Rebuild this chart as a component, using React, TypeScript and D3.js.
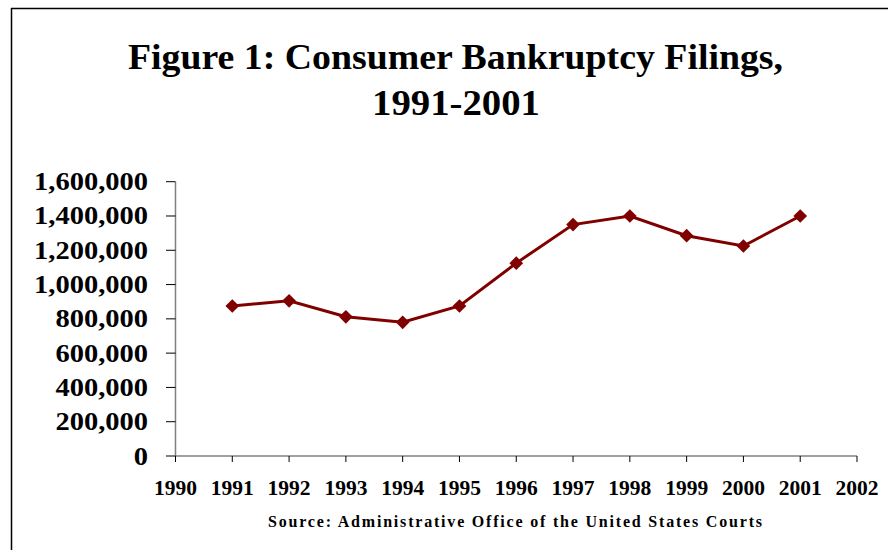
import React from 'react';
import * as d3 from 'd3';

const years = [1991, 1992, 1993, 1994, 1995, 1996, 1997, 1998, 1999, 2000, 2001];
const filings = [875000, 905000, 812000, 780000, 875000, 1125000, 1350000, 1400000, 1285000, 1225000, 1400000];
const xTicks = [1990, 1991, 1992, 1993, 1994, 1995, 1996, 1997, 1998, 1999, 2000, 2001, 2002];
const yTicks = [0, 200000, 400000, 600000, 800000, 1000000, 1200000, 1400000, 1600000];
const titleLines = ['Figure 1: Consumer Bankruptcy Filings,', '1991-2001'];
const source = 'Source: Administrative Office of the United States Courts';

const W = 888;
const H = 550;
const FONT = '"Liberation Serif", "Times New Roman", serif';
const LINE = '#800000';

// the original's bold serif runs a little wider than Liberation's, stretch to fit
const labelWidth = (s: string, em: number) =>
  s.split('').reduce((w, c) => w + (c === ',' ? 0.25 : 0.5), 0) * em;

const App: React.FC = () => {
  const x = d3.scaleLinear().domain([1990, 2002]).range([175.5, 857]);
  const y = d3.scaleLinear().domain([0, 1600000]).range([456, 181.7]);
  const fmt = d3.format(',');

  const pts = years.map((yr, i) => [x(yr), y(filings[i])] as [number, number]);
  const line = d3.line()(pts) || '';
  const diamond = d3.symbol().type(d3.symbolDiamond2).size(120)() || '';

  return (
    <svg width={W} height={H} style={{ position: 'absolute', left: 0, top: 0, background: '#fff' }}
      fontFamily={FONT}>
      <rect x={0} y={0} width={W} height={H} fill="#fff" />
      {/* frame: only top and left edges show in the crop */}
      <line x1={11} y1={8.5} x2={W} y2={8.5} stroke="#000" strokeWidth={1.5} />
      <line x1={11.5} y1={8} x2={11.5} y2={H} stroke="#000" strokeWidth={1.5} />

      <text x={455.5} y={69} textAnchor="middle" fontSize={36} fontWeight="bold"
        textLength={655} lengthAdjust="spacingAndGlyphs">{titleLines[0]}</text>
      <text x={456} y={115} textAnchor="middle" fontSize={36} fontWeight="bold"
        textLength={168} lengthAdjust="spacingAndGlyphs">{titleLines[1]}</text>

      {/* y axis */}
      <line x1={x(1990)} x2={x(1990)} y1={y(1600000)} y2={y(0)} stroke="#808080" strokeWidth={1.5} />
      {yTicks.map(v => (
        <g key={v}>
          <line x1={166} x2={x(1990)} y1={y(v)} y2={y(v)} stroke="#000" strokeWidth={1} />
          <text x={148} y={y(v)} dy="0.34em" textAnchor="end" fontSize={25} fontWeight="bold"
            textLength={labelWidth(fmt(v), 28.5)} lengthAdjust="spacingAndGlyphs">{fmt(v)}</text>
        </g>
      ))}

      {/* x axis */}
      <line x1={x(1990)} x2={x(2002)} y1={y(0)} y2={y(0)} stroke="#808080" strokeWidth={1.5} />
      {xTicks.map(t => (
        <g key={t}>
          <line x1={x(t)} x2={x(t)} y1={y(0)} y2={y(0) + 6} stroke="#000" strokeWidth={1} />
          <text x={x(t)} y={495} textAnchor="middle" fontSize={20} fontWeight="bold"
            textLength={43} lengthAdjust="spacingAndGlyphs">{t}</text>
        </g>
      ))}

      <path d={line} fill="none" stroke={LINE} strokeWidth={3} />
      {pts.map(([px, py], i) => (
        <path key={years[i]} d={diamond} transform={`translate(${px},${py})`} fill={LINE} />
      ))}

      <text x={515} y={527} textAnchor="middle" fontSize={16} fontWeight="bold"
        textLength={494} lengthAdjust="spacing">{source}</text>
    </svg>
  );
};

export default App;
